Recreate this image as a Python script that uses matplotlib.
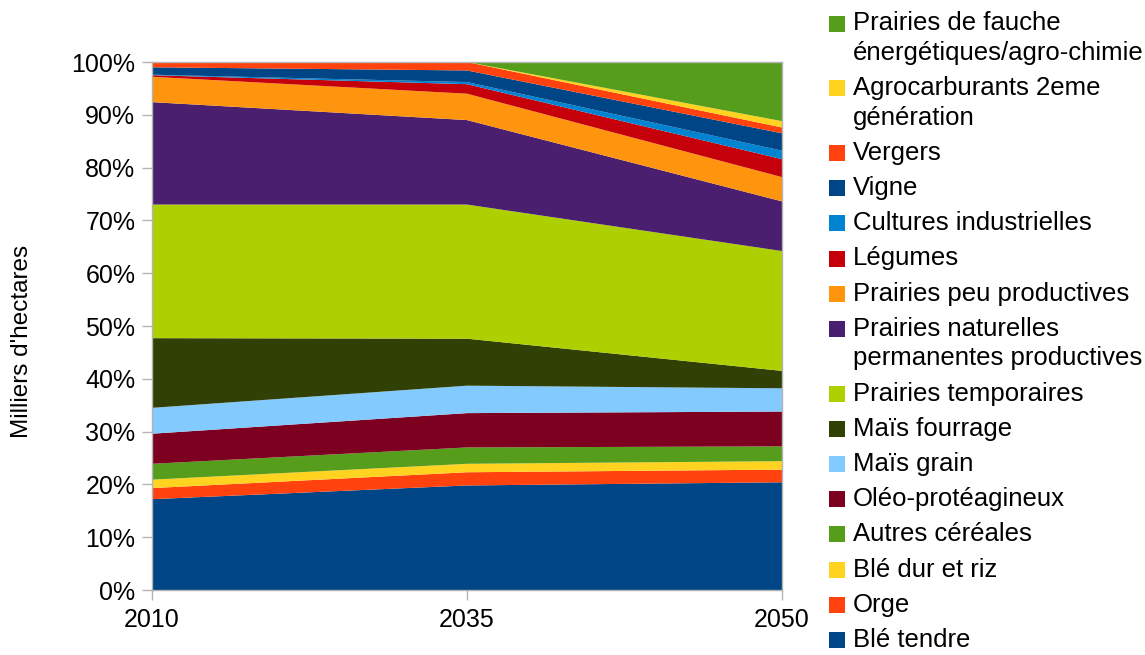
import numpy as np
import matplotlib
matplotlib.use("Agg")
import matplotlib.pyplot as plt
from matplotlib.patches import Rectangle
from matplotlib.ticker import PercentFormatter

plt.rcParams['font.family'] = ['Liberation Sans', 'DejaVu Sans']

# Surface agricole par culture (part en % de la SAU), de bas en haut de la pile
annees = ["2010", "2035", "2050"]
cultures = [
    "Blé tendre",
    "Orge",
    "Blé dur et riz",
    "Autres céréales",
    "Oléo-protéagineux",
    "Maïs grain",
    "Maïs fourrage",
    "Prairies temporaires",
    "Prairies naturelles\npermanentes productives",
    "Prairies peu productives",
    "Légumes",
    "Cultures industrielles",
    "Vigne",
    "Vergers",
    "Agrocarburants 2eme\ngénération",
    "Prairies de fauche\nénergétiques/agro-chimie",
]
parts_2010 = [17.2, 2.1, 1.6, 3.0, 5.7, 4.9, 13.2, 25.3, 19.4, 4.8, 0.3, 0.1, 1.4, 1.0, 0.0, 0.0]
parts_2035 = [19.8, 2.5, 1.6, 3.1, 6.5, 5.2, 8.9, 25.4, 16.0, 5.0, 1.8, 0.4, 2.2, 1.6, 0.0, 0.0]
parts_2050 = [20.4, 2.4, 1.6, 2.8, 6.6, 4.4, 3.3, 22.7, 9.4, 4.6, 3.4, 1.6, 3.3, 1.1, 1.2, 11.2]

couleurs = [
    "#004586", "#ff420e", "#ffd320", "#579d1c", "#7e0021", "#83caff",
    "#314004", "#aecf00", "#4b1f6f", "#ff950e", "#c5000b", "#0084d1",
    "#004586", "#ff420e", "#ffd320", "#579d1c",
]

data = np.array([parts_2010, parts_2035, parts_2050], dtype=float).T
data = data / data.sum(axis=0) * 100  # empilement en pourcentage

W, H = 1145, 655
fig = plt.figure(figsize=(W / 100, H / 100), dpi=100)
ax = fig.add_axes([152 / W, 1 - 590 / H, (782 - 152) / W, (590 - 62) / H])

x = np.arange(len(annees))
ax.stackplot(x, data, colors=couleurs, linewidth=0)

ax.set_xlim(0, len(annees) - 1)
ax.set_ylim(0, 100)
ax.set_xticks(x)
ax.set_xticklabels(annees)
ax.set_yticks(np.arange(0, 101, 10))
ax.yaxis.set_major_formatter(PercentFormatter(decimals=0))

gris = "#b3b3b3"
for s in ax.spines.values():
    s.set_color(gris)
    s.set_linewidth(1)
ax.tick_params(axis="both", colors=gris, labelcolor="black", labelsize=18,
               length=7, width=1, direction="out")
ax.tick_params(axis="y", pad=5)
ax.tick_params(axis="x", pad=6)

fig.text(22 / W, 1 - 341 / H, "Milliers d'hectares", rotation=90,
         ha="center", va="center", fontsize=17.5)

# Légende dessinée à la main : carrés + libellés, ordre inverse de la pile
py = 23.5
for lab, col in zip(cultures[::-1], couleurs[::-1]):
    lignes = lab.split("\n")
    fig.patches.append(Rectangle((829 / W, 1 - (py + 8) / H), 16 / W, 16 / H,
                                 facecolor=col, edgecolor="none",
                                 transform=fig.transFigure, figure=fig))
    for k, ligne in enumerate(lignes):
        fig.text(853 / W, 1 - (py + k * 29.5) / H, ligne, ha="left",
                 va="center", fontsize=18.5)
    py += 35.2 + 29.5 * (len(lignes) - 1)

fig.savefig("out.png", dpi=100)
